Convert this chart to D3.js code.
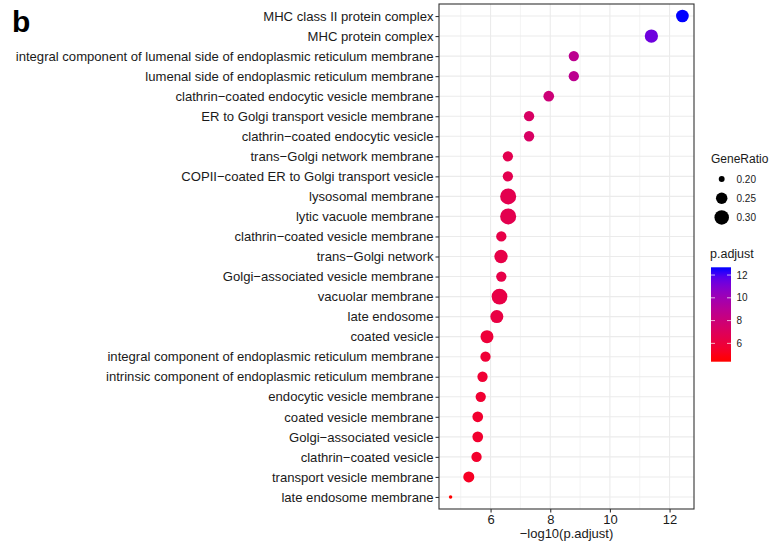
<!DOCTYPE html>
<meta charset="utf-8">
<style>
body { margin: 0; background: #fff; }
svg { font-family: "Liberation Sans", Arial, sans-serif; }
.grid line { stroke: #ebebeb; }
</style>
<body>
<svg width="769" height="548"></svg>
<script src="https://d3js.org/d3.v7.min.js"></script>
<script>

// GO cellular component terms, top to bottom
var terms = [
  "MHC class II protein complex",
  "MHC protein complex",
  "integral component of lumenal side of endoplasmic reticulum membrane",
  "lumenal side of endoplasmic reticulum membrane",
  "clathrin\u2212coated endocytic vesicle membrane",
  "ER to Golgi transport vesicle membrane",
  "clathrin\u2212coated endocytic vesicle",
  "trans\u2212Golgi network membrane",
  "COPII\u2212coated ER to Golgi transport vesicle",
  "lysosomal membrane",
  "lytic vacuole membrane",
  "clathrin\u2212coated vesicle membrane",
  "trans\u2212Golgi network",
  "Golgi\u2212associated vesicle membrane",
  "vacuolar membrane",
  "late endosome",
  "coated vesicle",
  "integral component of endoplasmic reticulum membrane",
  "intrinsic component of endoplasmic reticulum membrane",
  "endocytic vesicle membrane",
  "coated vesicle membrane",
  "Golgi\u2212associated vesicle",
  "clathrin\u2212coated vesicle",
  "transport vesicle membrane",
  "late endosome membrane"
];

// -log10(p.adjust)
var logP = [12.43, 11.39, 8.79, 8.79, 7.95, 7.29, 7.29, 6.58, 6.58, 6.59, 6.59, 6.36, 6.35,
            6.36, 6.30, 6.21, 5.88, 5.83, 5.73, 5.67, 5.57, 5.57, 5.53, 5.27, 4.66];

var geneRatio = [0.268, 0.278, 0.235, 0.235, 0.240, 0.235, 0.235, 0.235, 0.235, 0.330, 0.330, 0.235, 0.278,
                 0.235, 0.324, 0.273, 0.273, 0.235, 0.235, 0.235, 0.240, 0.240, 0.235, 0.244, 0.195];

var xTicks = [6, 8, 10, 12];
var xMinor = [5, 7, 9, 11];
var sizeBreaks = [0.20, 0.25, 0.30];
var colorBreaks = [6, 8, 10, 12];
var colorLimits = [4.39, 12.68];   // span of the colour bar

var data = terms.map(function(t, i) { return {term: t, p: logP[i], ratio: geneRatio[i]}; });

var svg = d3.select("svg"),
    panel = {left: 439, right: 694, top: 4, bottom: 509};

// x with ggplot-like 5% expansion
var ext = d3.extent(logP), pad = (ext[1] - ext[0]) * 0.05;
var x = d3.scaleLinear()
    .domain([ext[0] - pad, ext[1] + pad])
    .range([panel.left, panel.right]);

var y = d3.scalePoint()
    .domain(terms)
    .range([panel.top, panel.bottom])
    .padding(0.6);

// area scale: diameter grows with sqrt of rescaled ratio
var ratioT = d3.scaleLinear().domain([0.195, 0.33]).range([0, 1]).clamp(true);
var diam = d3.scaleLinear().domain([0, 1]).range([3.5, 16]);
function radius(v) { return diam(Math.sqrt(ratioT(v))) / 2; }

var color = d3.scaleLinear()
    .domain(ext)
    .range(["red", "blue"])
    .interpolate(d3.interpolateLab)
    .clamp(true);

// grid
var grid = svg.append("g").attr("class", "grid");
grid.selectAll(".minor").data(xMinor).enter().append("line")
    .attr("x1", x).attr("x2", x)
    .attr("y1", panel.top).attr("y2", panel.bottom)
    .attr("stroke-width", 0.6);
grid.selectAll(".major").data(xTicks).enter().append("line")
    .attr("x1", x).attr("x2", x)
    .attr("y1", panel.top).attr("y2", panel.bottom)
    .attr("stroke-width", 1.1);
grid.selectAll(".row").data(terms).enter().append("line")
    .attr("x1", panel.left).attr("x2", panel.right)
    .attr("y1", y).attr("y2", y)
    .attr("stroke-width", 1.1);

// points
svg.append("g")
  .selectAll("circle")
  .data(data)
  .enter().append("circle")
    .attr("cx", function(d) { return x(d.p); })
    .attr("cy", function(d) { return y(d.term); })
    .attr("r", function(d) { return radius(d.ratio); })
    .attr("fill", function(d) { return color(d.p); });

// panel border
svg.append("rect")
    .attr("x", panel.left).attr("y", panel.top)
    .attr("width", panel.right - panel.left)
    .attr("height", panel.bottom - panel.top)
    .attr("fill", "none")
    .attr("stroke", "#333")
    .attr("stroke-width", 1.1);

// axes
var xAxis = svg.append("g")
    .attr("transform", "translate(0," + panel.bottom + ")")
    .call(d3.axisBottom(x).tickValues(xTicks).tickSize(3.5).tickPadding(2).tickSizeOuter(0));
xAxis.select(".domain").remove();
xAxis.selectAll("line").attr("stroke", "#333").attr("stroke-width", 1.1);
xAxis.selectAll("text").attr("font-size", 13).attr("fill", "#1a1a1a")
    .attr("font-family", "Liberation Sans, Arial, sans-serif");

var yAxis = svg.append("g")
    .attr("transform", "translate(" + panel.left + ",0)")
    .call(d3.axisLeft(y).tickSize(3.5).tickPadding(2).tickSizeOuter(0));
yAxis.select(".domain").remove();
yAxis.selectAll("line").attr("stroke", "#333").attr("stroke-width", 1.1);
yAxis.selectAll("text").attr("font-size", 13.1).attr("fill", "#1a1a1a")
    .attr("font-family", "Liberation Sans, Arial, sans-serif");

svg.append("text")
    .attr("x", (panel.left + panel.right) / 2)
    .attr("y", 538)
    .attr("text-anchor", "middle")
    .attr("font-size", 13)
    .attr("fill", "#1a1a1a")
    .text("\u2212log10(p.adjust)");

svg.append("text")
    .attr("x", 12)
    .attr("y", 32)
    .attr("font-size", 30)
    .attr("font-weight", "bold")
    .text("b");

// size legend
var sizeLeg = svg.append("g");
sizeLeg.append("text")
    .attr("x", 711).attr("y", 162.5)
    .attr("font-size", 12).attr("fill", "#1a1a1a")
    .text("GeneRatio");
var sizeItems = sizeLeg.selectAll(".item")
    .data(sizeBreaks)
    .enter().append("g")
    .attr("transform", function(d, i) { return "translate(0," + (179 + i * 19.2) + ")"; });
sizeItems.append("circle")
    .attr("cx", 721.7)
    .attr("r", radius)
    .attr("fill", "black");
sizeItems.append("text")
    .attr("x", 736.5).attr("dy", "0.35em")
    .attr("font-size", 10).attr("fill", "#1a1a1a")
    .text(d3.format(".2f"));

// colour bar legend
var bar = {x: 711, w: 20, top: 267.3, bottom: 361.7};
svg.append("text")
    .attr("x", 710).attr("y", 257.5)
    .attr("font-size", 12.5).attr("fill", "#1a1a1a")
    .text("p.adjust");

var grad = svg.append("defs").append("linearGradient")
    .attr("id", "cbar")
    .attr("x1", 0).attr("y1", 1).attr("x2", 0).attr("y2", 0);
grad.selectAll("stop")
    .data(d3.range(0, 1.0001, 0.05))
    .enter().append("stop")
    .attr("offset", function(t) { return t; })
    .attr("stop-color", function(t) { return color(colorLimits[0] + t * (colorLimits[1] - colorLimits[0])); });

svg.append("rect")
    .attr("x", bar.x).attr("y", bar.top)
    .attr("width", bar.w).attr("height", bar.bottom - bar.top)
    .attr("fill", "url(#cbar)");

var cy = d3.scaleLinear().domain(colorLimits).range([bar.bottom, bar.top]);
var cTicks = svg.append("g").selectAll("g")
    .data(colorBreaks)
    .enter().append("g")
    .attr("transform", function(d) { return "translate(0," + cy(d) + ")"; });
cTicks.append("line")
    .attr("x1", bar.x).attr("x2", bar.x + 4)
    .attr("stroke", "white").attr("stroke-opacity", 0.7);
cTicks.append("line")
    .attr("x1", bar.x + bar.w - 4).attr("x2", bar.x + bar.w)
    .attr("stroke", "white").attr("stroke-opacity", 0.7);
cTicks.append("text")
    .attr("x", 736.5).attr("dy", "0.35em")
    .attr("font-size", 10).attr("fill", "#1a1a1a")
    .text(function(d) { return d; });

</script>
</body>
